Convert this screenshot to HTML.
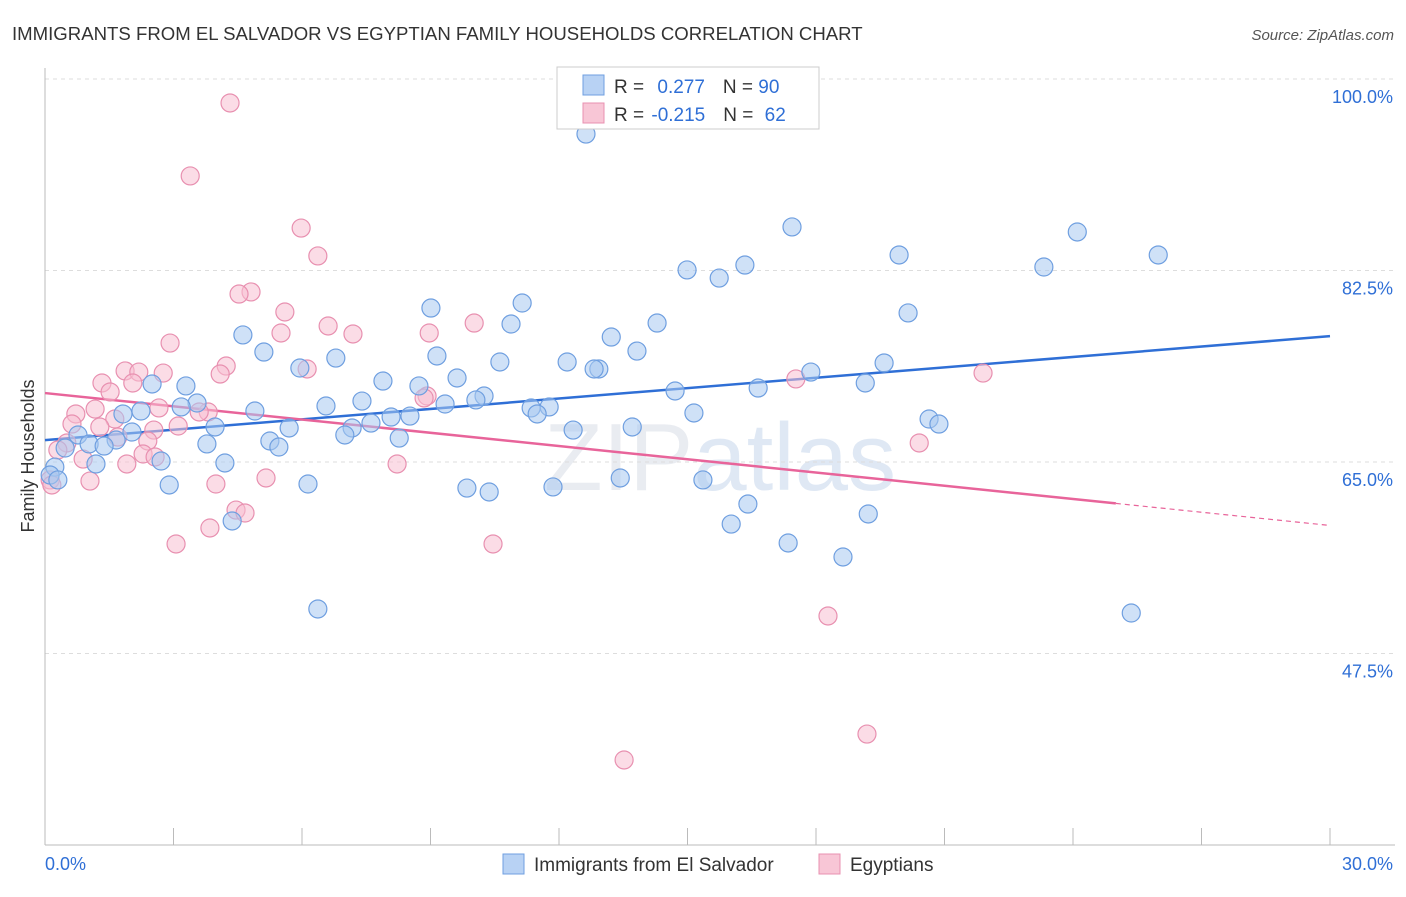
<!DOCTYPE html>
<html><head><meta charset="utf-8"><style>
body{margin:0;background:#fff;font-family:"Liberation Sans",sans-serif}
svg text{font-family:"Liberation Sans",sans-serif}
</style></head><body>
<svg id="chart" width="1406" height="892" xmlns="http://www.w3.org/2000/svg">
<text x="12" y="40" font-size="18.6" fill="#333">IMMIGRANTS FROM EL SALVADOR VS EGYPTIAN FAMILY HOUSEHOLDS CORRELATION CHART</text>
<text x="1394" y="40" font-size="15" fill="#555" text-anchor="end" font-style="italic">Source: ZipAtlas.com</text>
<text x="720" y="490" font-size="96" fill="#d8dde6" text-anchor="middle" font-family="Liberation Serif" opacity="0.55">ZIP<tspan fill="#c6d6ec" font-family="Liberation Sans">atlas</tspan></text>
<g id="grid"></g>
<g id="axes"></g>
<g id="lines"></g>
<g id="pts"></g>
<text transform="translate(34,456) rotate(-90)" font-size="18" fill="#333" text-anchor="middle">Family Households</text>
<g>
<rect x="557" y="67" width="262" height="62" fill="#fff" stroke="#ccc"/>
<rect x="583" y="75" width="21" height="20" fill="#b8d2f4" stroke="#6f9fe0"/>
<rect x="583" y="103" width="21" height="20" fill="#f8c6d6" stroke="#e890b0"/>
<text x="614" y="93" font-size="19" fill="#333">R = <tspan fill="#2f6fd6" dx="8">0.277</tspan><tspan dx="18">N = </tspan><tspan fill="#2f6fd6">90</tspan></text>
<text x="614" y="121" font-size="19" fill="#333">R = <tspan fill="#2f6fd6" dx="2">-0.215</tspan><tspan dx="18">N = </tspan><tspan fill="#2f6fd6" dx="6">62</tspan></text>
</g>
<g>
<rect x="503" y="854" width="21" height="20" fill="#b8d2f4" stroke="#6f9fe0"/>
<text x="534" y="871" font-size="19" fill="#333">Immigrants from El Salvador</text>
<rect x="819" y="854" width="21" height="20" fill="#f8c6d6" stroke="#e890b0"/>
<text x="850" y="871" font-size="19" fill="#333">Egyptians</text>
</g>
</svg>
<script>
const yTicks=[100,82.5,65,47.5];
const xTickLabels=["0.0%","30.0%"];
const blueX=[12.63,17.44,24.10,19.94,25.99,23.32,16.34,14.99,15.74,11.14,9.01,20.15,10.88,14.29,4.62,13.22,5.11,13.82,9.15,6.79,10.62,12.19,19.59,12.93,12.82,5.95,17.88,9.62,7.89,19.15,2.50,3.29,8.73,14.71,16.65,10.25,7.40,10.06,9.34,3.55,6.56,3.18,11.35,11.77,2.24,1.82,4.90,11.49,15.15,8.52,8.08,7.61,20.64,20.87,3.97,5.70,7.17,2.03,12.33,13.71,0.77,7.00,8.27,5.25,1.66,1.03,1.38,5.46,3.78,0.47,2.71,4.20,1.19,0.23,0.12,0.30,2.90,6.14,9.85,10.37,11.86,13.43,15.36,16.41,19.22,4.37,16.02,17.35,18.63,6.37,25.36];
const blueY=[94.97,86.48,86.02,83.92,83.92,82.82,83.0,82.55,81.81,79.53,79.07,78.62,77.61,77.70,76.61,76.42,75.05,75.14,74.69,74.50,74.14,74.14,74.05,73.50,73.50,73.59,73.22,72.68,72.40,72.22,72.13,71.95,71.95,71.49,71.76,71.03,70.57,70.67,70.30,70.39,70.12,70.03,69.94,70.03,69.66,69.39,69.66,69.39,69.48,69.20,69.11,68.56,68.93,68.47,68.20,68.11,68.11,67.74,67.92,68.20,67.47,67.47,67.19,66.92,67.01,66.65,66.46,66.37,66.65,66.28,65.09,64.91,64.82,64.54,63.81,63.36,62.90,62.99,62.62,62.26,62.72,63.54,63.36,61.16,60.25,59.61,59.33,57.60,56.32,51.57,51.20];
const pinkX=[4.32,3.39,5.98,6.37,4.81,4.53,5.60,10.02,6.61,5.51,7.19,8.97,2.92,4.23,6.12,1.87,4.09,2.76,2.19,2.05,1.33,1.52,8.92,8.85,17.53,21.90,2.66,1.17,0.72,3.81,3.60,1.63,3.11,0.63,1.28,2.54,1.70,2.40,0.51,20.41,2.29,2.57,0.89,1.91,0.30,5.16,8.22,1.05,3.99,0.12,4.46,4.67,3.85,3.06,10.46,18.28,19.19,13.52,0.16];
const pinkY=[97.81,91.14,86.38,83.83,80.54,80.35,78.71,77.70,77.43,76.79,76.70,76.79,75.87,73.77,73.50,73.32,73.04,73.13,73.22,72.22,72.22,71.40,71.03,70.85,72.59,73.13,69.94,69.84,69.39,69.57,69.57,68.93,68.29,68.47,68.20,67.92,67.28,66.92,66.74,66.74,65.73,65.46,65.27,64.82,66.10,63.54,64.82,63.26,62.99,63.36,60.61,60.34,58.97,57.51,57.51,50.93,40.14,37.77,62.90];
const blueTrend=[67.0,76.5];
const pinkTrend=[71.3,59.2];
const pinkSolidEnd=25;
const NS="http://www.w3.org/2000/svg";
const X=v=>45+v/30*1285;
const Y=v=>79+(100-v)*10.943;
function mk(p,tag,attrs){const e=document.createElementNS(NS,tag);for(const k in attrs)e.setAttribute(k,attrs[k]);document.getElementById(p).appendChild(e);return e;}
yTicks.forEach((t,i)=>{
 const g=mk('grid','line',{x1:45,x2:1395,y1:Y(t),y2:Y(t),stroke:'#ddd','stroke-dasharray':'4,4'});
 
 
 const tx=mk('grid','text',{x:1393,y:Y(t)+24,'font-size':18,fill:'#2f6fd6','text-anchor':'end'});
 tx.textContent=t.toFixed(1)+'%';
 
 
});
mk('axes','line',{x1:45,x2:45,y1:68,y2:845,stroke:'#bbb'});
mk('axes','line',{x1:45,x2:1395,y1:845,y2:845,stroke:'#bbb'});
for(let i=1;i<=10;i++){mk('axes','line',{x1:X(i*3),x2:X(i*3),y1:828,y2:845,stroke:'#bbb'});}
const l0=mk('axes','text',{x:45,y:870,'font-size':18,fill:'#2f6fd6'});l0.textContent=xTickLabels[0];


const l1=mk('axes','text',{x:1393,y:870,'font-size':18,fill:'#2f6fd6','text-anchor':'end'});l1.textContent=xTickLabels[1];


function dot(x,y,f,s){const c=mk('pts','circle',{cx:X(x),cy:Y(y),r:9,fill:f,'fill-opacity':0.55,stroke:s,'stroke-width':1.2});return c;}
pinkX.forEach((x,i)=>{const c=dot(x,pinkY[i],'#f8c0d2','#e890b0');
 
 });
blueX.forEach((x,i)=>{const c=dot(x,blueY[i],'#a8c8f0','#6f9fe0');
 
 });
const lerp=(a,b,x)=>a+(b-a)*x/30;
const bl=mk('lines','line',{x1:X(0),y1:Y(blueTrend[0]),x2:X(30),y2:Y(blueTrend[1]),stroke:'#2f6fd6','stroke-width':2.5});


const pl=mk('lines','line',{x1:X(0),y1:Y(pinkTrend[0]),x2:X(pinkSolidEnd),y2:Y(lerp(pinkTrend[0],pinkTrend[1],pinkSolidEnd)),stroke:'#e8649a','stroke-width':2.5});


const pd=mk('lines','line',{x1:X(pinkSolidEnd),y1:Y(lerp(pinkTrend[0],pinkTrend[1],pinkSolidEnd)),x2:X(30),y2:Y(pinkTrend[1]),stroke:'#e8649a','stroke-width':1.2,'stroke-dasharray':'5,4'});


</script>
</body></html>
